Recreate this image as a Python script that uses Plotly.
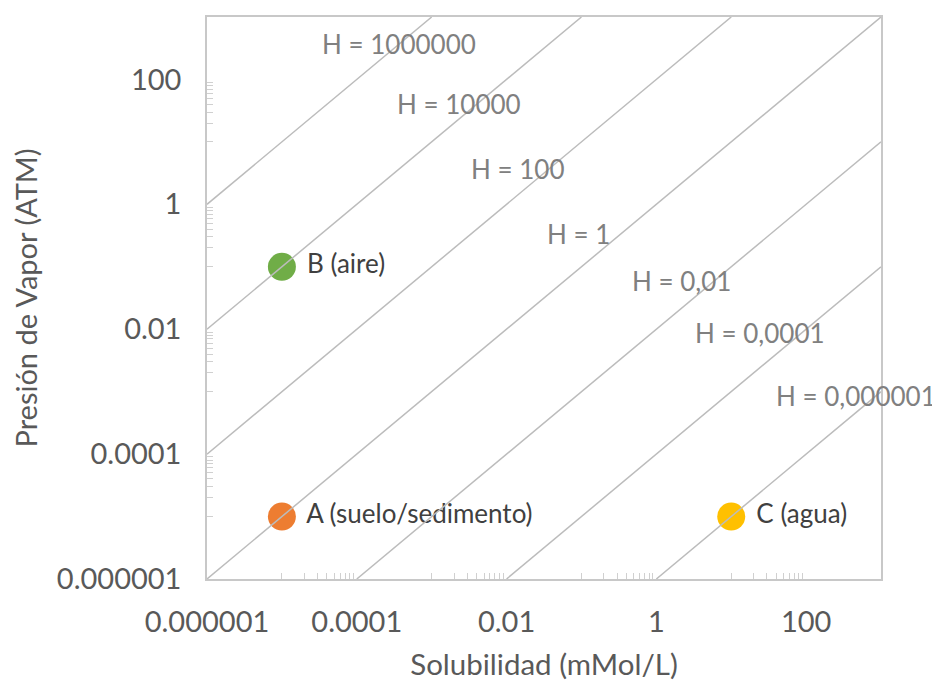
import plotly.graph_objects as go

# ---- data ----
point_names = ["A (suelo/sedimento)", "B (aire)", "C (agua)"]
point_solubility = [1e-5, 1e-5, 10]          # mMol/L
point_pressure = [1e-5, 0.1, 1e-5]           # ATM
point_colors = ["#ED7D31", "#70AD47", "#FFC000"]

henry_values = [1e6, 1e4, 100, 1, 0.01, 1e-4, 1e-6]
henry_labels = ["H = 1000000", "H = 10000", "H = 100", "H = 1",
                "H = 0,01", "H = 0,0001", "H = 0,000001"]

tick_vals = [1e-6, 1e-4, 1e-2, 1, 100]
tick_text = ["0.000001", "0.0001", "0.01", "1", "100"]

# label placement (log10 coordinates)
label_x_log = [-3.44, -2.63, -1.85, -1.04, 0.33, 1.39, 2.67]
label_y_log = [2.56, 1.60, 0.56, -0.48, -1.23, -2.06, -3.07]

AX_MIN, AX_MAX = 1e-6, 1e3
NBSP = "\u00a0"

fig = go.Figure()

# points
fig.add_trace(go.Scatter(
    x=point_solubility, y=point_pressure, mode="markers+text",
    text=[NBSP + n for n in point_names], textposition="middle right",
    textfont=dict(family="Lato", size=26, color="#404040"),
    marker=dict(size=28, color=point_colors, line=dict(width=0)),
    showlegend=False, hoverinfo="skip"))

# Henry lines y = H * x
for h in henry_values:
    x0 = max(AX_MIN, AX_MIN / h)
    x1 = min(AX_MAX, AX_MAX / h)
    fig.add_trace(go.Scatter(
        x=[x0, x1], y=[h * x0, h * x1], mode="lines",
        line=dict(color="#BCBCBC", width=1.5),
        showlegend=False, hoverinfo="skip"))

for lab, lx, ly in zip(henry_labels, label_x_log, label_y_log):
    fig.add_annotation(x=lx, y=ly, xref="x", yref="y", text=lab,
                       showarrow=False,
                       font=dict(family="Lato", size=26, color="#808080"))

minor_vals = [m * 10.0 ** e for e in (-5, -3, -1, 1) for m in range(1, 10)]

axis_common = dict(
    type="log", range=[-6, 3], tickmode="array", tickvals=tick_vals,
    ticktext=tick_text, ticks="", showgrid=False, zeroline=False,
    showline=True, linecolor="#C8C8C8", linewidth=1.5, mirror=True,
    tickfont=dict(family="Lato", size=29, color="#595959"),
    minor=dict(tickmode="array", tickvals=minor_vals, ticks="inside",
               ticklen=6, tickcolor="#D0D0D0", tickwidth=1, showgrid=False),
)

fig.update_xaxes(**axis_common, ticklabelstandoff=16,
                 title=dict(text="Solubilidad (mMol/L)", standoff=18,
                            font=dict(family="Lato", size=29.5, color="#595959")))
fig.update_yaxes(**axis_common, ticklabelstandoff=18,
                 title=dict(text="Presión de Vapor (ATM)", standoff=14,
                            font=dict(family="Lato", size=29, color="#595959")))

fig.update_layout(
    width=940, height=684,
    margin=dict(l=199, r=67, t=7, b=113),
    paper_bgcolor="white", plot_bgcolor="white",
)

fig.write_html("out.html")
